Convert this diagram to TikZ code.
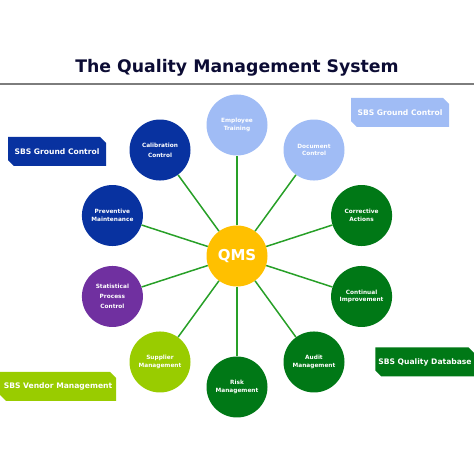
\documentclass[tikz,border=0pt]{standalone}
\usepackage{fontspec}
\setmainfont{DejaVu Sans}
\usepackage{xcolor}
\usepackage{tikz}
\usetikzlibrary{calc,shapes.misc}

\definecolor{titlenavy}{RGB}{12,12,52}
\definecolor{ruleGray}{RGB}{125,125,125}
\definecolor{darkblue}{RGB}{8,50,160}
\definecolor{lightblue}{RGB}{160,188,245}
\definecolor{plum}{RGB}{112,48,160}
\definecolor{lime}{RGB}{153,204,0}
\definecolor{forest}{RGB}{0,120,22}
\definecolor{spokegreen}{RGB}{40,160,40}
\definecolor{gold}{RGB}{255,192,0}

\begin{document}
\begin{tikzpicture}[
    x=1pt, y=1pt,
    hub/.style={circle, minimum size=61pt, inner sep=0pt, fill=gold, text=white, font=\fontsize{15}{17}\selectfont\bfseries},
    topic/.style={circle, minimum size=61pt, inner sep=0pt, align=center, text=white, font=\fontsize{5.8}{7.5}\selectfont\bfseries},
    tag/.style={chamfered rectangle, chamfered rectangle corners={north east,south west}, chamfered rectangle xsep=3pt, chamfered rectangle ysep=3pt, minimum width=98pt, minimum height=29pt, inner sep=0pt, text=white, font=\fontsize{7.6}{9}\selectfont\bfseries},
    spoke/.style={draw=spokegreen, line width=1.5pt}
]
\useasboundingbox (0,0) rectangle (474,474);

% Title and rule
\node (title) at (237,406) [text=titlenavy, font=\fontsize{17.3}{20}\selectfont\bfseries] {The Quality Management System};
\fill[ruleGray] (0,388.5) rectangle (474,390.5);

% Hub
\node (qms) [hub] at (237,218) {QMS};

% Topics around the hub
\node (training) [topic, fill=lightblue] at ($(qms.center)+(90:131)$) {Employee\\Training};
\node (document) [topic, fill=lightblue] at ($(qms.center)+(54:131)$) {Document\\Control};
\node (corrective) [topic, fill=forest] at ($(qms.center)+(18:131)$) {Corrective\\Actions};
\node (continual) [topic, fill=forest] at ($(qms.center)+(-18:131)$) {Continual\\Improvement};
\node (audit) [topic, fill=forest] at ($(qms.center)+(-54:131)$) {Audit\\Management};
\node (risk) [topic, fill=forest] at ($(qms.center)+(-90:131)$) {Risk\\Management};
\node (supplier) [topic, fill=lime] at ($(qms.center)+(-126:131)$) {Supplier\\Management};
\node (statistical) [topic, fill=plum] at ($(qms.center)+(198:131)$) {Statistical\\[2.5pt]Process\\[2.5pt]Control};
\node (preventive) [topic, fill=darkblue] at ($(qms.center)+(162:131)$) {Preventive\\Maintenance};
\node (calibration) [topic, fill=darkblue] at ($(qms.center)+(126:131)$) {Calibration\\[2.5pt]Control};

% Spokes
\draw[spoke] (qms) -- (training);
\draw[spoke] (qms) -- (document);
\draw[spoke] (qms) -- (corrective);
\draw[spoke] (qms) -- (continual);
\draw[spoke] (qms) -- (audit);
\draw[spoke] (qms) -- (risk);
\draw[spoke] (qms) -- (supplier);
\draw[spoke] (qms) -- (statistical);
\draw[spoke] (qms) -- (preventive);
\draw[spoke] (qms) -- (calibration);

% System tags
\node (groundleft) [tag, fill=darkblue] at (57,322.5) {SBS Ground Control};
\node (groundright) [tag, fill=lightblue] at (400,361.5) {SBS Ground Control};
\node (vendor) [tag, fill=lime, minimum width=116pt] at (58,87.5) {SBS Vendor Management};
\node (database) [tag, fill=forest] at (425,112) {SBS Quality Database};

\end{tikzpicture}
\end{document}
